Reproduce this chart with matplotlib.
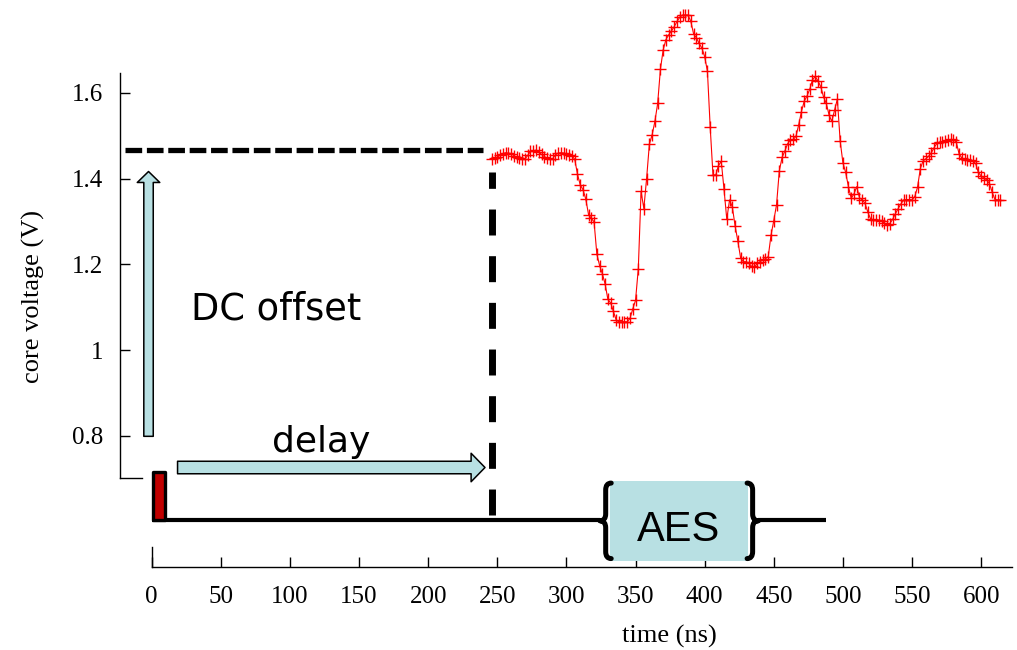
import numpy as np
import matplotlib
matplotlib.use("Agg")
import matplotlib.pyplot as plt
from matplotlib.patches import Rectangle, FancyArrowPatch, PathPatch
from matplotlib.path import Path

plt.rcParams["font.family"] = ["Liberation Serif", "DejaVu Serif"]
plt.rcParams["lines.scale_dashes"] = False

# ---- measured core voltage, one sample every 2 ns starting at 246 ns ----
time_ns = np.arange(246, 615, 2)
core_voltage = np.array([
    1.445, 1.447, 1.450, 1.454, 1.458, 1.460, 1.459, 1.458, 1.453, 1.450,
    1.447, 1.446, 1.445, 1.454, 1.463, 1.465, 1.466, 1.462, 1.456, 1.451,
    1.448, 1.446, 1.446, 1.455, 1.459, 1.460, 1.459, 1.457, 1.455, 1.452,
    1.445, 1.410, 1.385, 1.374, 1.352, 1.316, 1.307, 1.299, 1.224, 1.197,
    1.178, 1.154, 1.118, 1.110, 1.090, 1.070, 1.066, 1.066, 1.066, 1.066,
    1.074, 1.096, 1.116, 1.190, 1.370, 1.330, 1.400, 1.480, 1.502, 1.533,
    1.575, 1.655, 1.700, 1.724, 1.735, 1.744, 1.754, 1.766, 1.776, 1.781,
    1.781, 1.781, 1.766, 1.737, 1.728, 1.715, 1.704, 1.684, 1.650, 1.520,
    1.409, 1.408, 1.430, 1.440, 1.375, 1.305, 1.350, 1.334, 1.290, 1.254,
    1.215, 1.206, 1.206, 1.202, 1.195, 1.193, 1.202, 1.206, 1.210, 1.213,
    1.218, 1.268, 1.302, 1.339, 1.418, 1.449, 1.464, 1.481, 1.490, 1.491,
    1.498, 1.525, 1.556, 1.580, 1.592, 1.608, 1.630, 1.638, 1.627, 1.614,
    1.590, 1.575, 1.548, 1.533, 1.560, 1.585, 1.488, 1.437, 1.414, 1.381,
    1.354, 1.364, 1.381, 1.355, 1.350, 1.342, 1.322, 1.306, 1.304, 1.304,
    1.303, 1.301, 1.296, 1.292, 1.295, 1.305, 1.318, 1.330, 1.341, 1.350,
    1.351, 1.351, 1.350, 1.358, 1.380, 1.423, 1.441, 1.446, 1.452, 1.460,
    1.472, 1.482, 1.484, 1.486, 1.488, 1.489, 1.491, 1.490, 1.485, 1.458,
    1.448, 1.445, 1.444, 1.443, 1.441, 1.435, 1.414, 1.406, 1.401, 1.397,
    1.388, 1.368, 1.351, 1.350, 1.350,
])

x_ticks = list(range(0, 601, 50))
y_ticks = [0.8, 1.0, 1.2, 1.4, 1.6]
y_tick_labels = ["0.8", "1", "1.2", "1.4", "1.6"]

# ---- timing-diagram annotation values ----
dc_level = 1.4655          # steady-state core voltage (V)
delay_ns = 246             # trigger-to-trace delay
trigger_ns = (1.2, 9.6)    # trigger pulse
aes_window = (331.5, 431.6)
timeline_end_ns = 487.6
timeline_v = 0.603

light_blue = "#b8e0e3"
pulse_red = "#c00000"

fig = plt.figure(figsize=(10.17, 6.5), dpi=100)
ax = fig.add_axes([0, 0, 1, 1])
ax.set_xlim(-109.74, 625.94)
ax.set_ylim(0.3009, 1.8161)

# axes in gnuplot style: left axis floating, time axis below the timeline
for side in ("top", "right"):
    ax.spines[side].set_visible(False)
ax.spines["left"].set_position(("data", -22.9))
ax.spines["left"].set_bounds(0.703, 1.646)
ax.spines["bottom"].set_position(("data", 0.495))
ax.spines["bottom"].set_bounds(0, 622.4)
for side in ("left", "bottom"):
    ax.spines[side].set_linewidth(1.0)

ax.set_xticks(x_ticks)
ax.set_yticks(y_ticks, y_tick_labels)
ax.tick_params(direction="in", length=7.5, width=1.0, labelsize=18)
ax.tick_params(axis="x", pad=14)
ax.tick_params(axis="y", pad=12)

ax.set_xlabel("time (ns)", fontsize=19)
ax.xaxis.set_label_coords(374.2, 0.3592, transform=ax.transData)
ax.set_ylabel("core voltage (V)", fontsize=19)
ax.yaxis.set_label_coords(-77.2, 1.1261, transform=ax.transData)

# corner stubs of the axis frame
ax.plot([-22.9, -7.0], [0.703, 0.703], color="black", lw=1.0)
ax.plot([0, 0], [0.495, 0.541], color="black", lw=1.0)

# DC level and delay markers
ax.plot([-19.3, delay_ns - 6.3], [dc_level, dc_level], color="black",
        lw=3.8, dashes=(12, 3.4), dash_capstyle="butt")
ax.plot([delay_ns, delay_ns], [0.6151, 1.4151], color="black",
        lw=5.0, dashes=(18.7, 14.9), dash_capstyle="butt")

# timeline with trigger pulse and AES window
brace_gap = 7.3
left_tip = aes_window[0] - brace_gap
right_tip = aes_window[1] + brace_gap
ax.plot([0, left_tip], [timeline_v, timeline_v], color="black", lw=3.0,
        solid_capstyle="butt")
ax.plot([right_tip, timeline_end_ns], [timeline_v, timeline_v],
        color="black", lw=3.0, solid_capstyle="butt")

ax.add_patch(Rectangle((trigger_ns[0], timeline_v),
                       trigger_ns[1] - trigger_ns[0], 0.112,
                       facecolor=pulse_red, edgecolor="black", lw=2.4,
                       joinstyle="round", zorder=3))

ax.add_patch(Rectangle((aes_window[0], 0.509), aes_window[1] - aes_window[0],
                       0.1865, facecolor=light_blue, edgecolor="none",
                       zorder=2))


def brace(tip, side, v_lo, v_hi, depth=8.2, arm=4.2, r=0.016):
    vm = (v_lo + v_hi) / 2
    xs = tip + side * arm
    xe = tip + side * depth
    verts = [(xe, v_hi), (xs, v_hi), (xs, v_hi - r),
             (xs, vm + r), (xs, vm), (tip, vm),
             (xs, vm), (xs, vm - r),
             (xs, v_lo + r), (xs, v_lo), (xe, v_lo)]
    codes = [Path.MOVETO, Path.CURVE3, Path.CURVE3,
             Path.LINETO, Path.CURVE3, Path.CURVE3,
             Path.CURVE3, Path.CURVE3,
             Path.LINETO, Path.CURVE3, Path.CURVE3]
    return PathPatch(Path(verts, codes), facecolor="none", edgecolor="black",
                     lw=3.6, capstyle="round", joinstyle="round", zorder=3)


ax.add_patch(brace(left_tip, +1, 0.514, 0.690))
ax.add_patch(brace(right_tip, -1, 0.514, 0.690))

ax.text(sum(aes_window) / 2 - 0.75, 0.5557, "AES", family="Liberation Sans",
        fontsize=30, ha="center", va="baseline", zorder=4)

# block arrows for DC offset and delay
ax.add_patch(FancyArrowPatch(
    (-2.3, 0.799), (-2.3, 1.4163),
    arrowstyle="simple,head_length=7.9,head_width=16.2,tail_width=6.8",
    mutation_scale=1, facecolor=light_blue, edgecolor="black", lw=1.1,
    shrinkA=0, shrinkB=0, zorder=3))
ax.add_patch(FancyArrowPatch(
    (18.7, 0.7263), (241.1, 0.7263),
    arrowstyle="simple,head_length=10,head_width=20.5,tail_width=9",
    mutation_scale=1, facecolor=light_blue, edgecolor="black", lw=1.1,
    shrinkA=0, shrinkB=0, zorder=3))

ax.text(90.3, 1.0702, "DC offset", family="DejaVu Sans", fontsize=26.5,
        ha="center", va="baseline")
ax.text(122.3, 0.7632, "delay", family="DejaVu Sans", fontsize=26,
        ha="center", va="baseline")

# measured trace
ax.plot(time_ns, core_voltage, color="red", lw=0.8, marker="+", ms=8.5,
        mew=1.0, zorder=5, clip_on=False)

fig.savefig("out.png", dpi=100)
